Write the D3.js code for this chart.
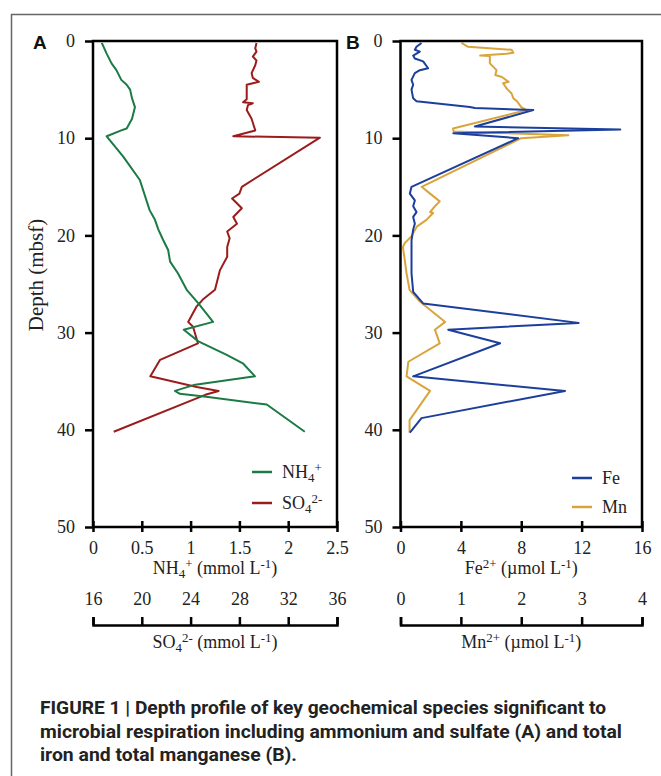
<!DOCTYPE html>
<html><head><meta charset="utf-8">
<script src="https://cdn.jsdelivr.net/npm/d3@7"></script>
<style>body{margin:0;background:#fff}</style>
</head><body>
<script>
// ---- data ----
const nh4Depth = [0.2,1.3,2.3,3.0,4.0,4.5,5.0,5.9,6.8,8.0,9.0,9.2,9.8,11.9,14.3,17.4,18.4,19.4,20.5,21.5,22.7,23.9,25.6,27.0,28.9,29.7,30.9,32.3,33.2,34.5,35.4,36.0,36.3,36.6,37.4,40.2];
const nh4 = [0.09,0.14,0.19,0.24,0.29,0.345,0.38,0.40,0.43,0.40,0.345,0.29,0.14,0.31,0.48,0.58,0.635,0.67,0.72,0.77,0.79,0.87,0.96,1.08,1.23,0.93,1.08,1.37,1.54,1.66,1.03,0.84,0.89,1.16,1.78,2.17];
const so4Depth = [0.2,0.75,1.1,1.6,2.0,2.5,3.3,3.8,4.2,4.35,4.5,6.0,6.3,6.4,6.6,7.1,8.0,9.2,9.8,9.95,15.0,15.7,16.2,17.2,18.1,18.8,19.6,20.3,21.2,22.2,23.6,25.6,26.6,27.3,28.9,29.4,31.1,32.8,34.5,35.6,36.0,36.4,40.2];
const so4 = [29.4,29.3,29.4,29.1,29.4,29.3,29.0,29.1,29.6,29.1,28.6,28.6,28.3,29.1,28.7,28.6,29.0,29.3,27.5,34.6,28.2,28.0,27.4,28.2,27.5,27.8,27.0,27.2,27.0,27.0,26.4,26.0,25.0,24.5,23.8,24.2,24.6,21.5,20.7,24.5,26.3,25.2,17.7];
const feDepth = [0.2,0.6,0.9,1.1,1.5,1.8,2.1,2.8,3.0,3.3,4.0,4.5,5.0,5.9,6.2,6.8,6.9,7.1,8.8,9.1,9.5,10.0,15.0,15.7,16.4,17.0,17.6,18.1,18.8,19.4,20.5,23.9,25.8,27.0,29.0,29.7,31.1,34.5,36.0,38.8,40.3];
const fe = [1.39,1.06,0.95,1.28,0.84,0.95,1.5,1.83,1.28,0.95,0.73,0.84,0.73,0.84,1.06,4.6,4.93,8.8,4.93,14.56,3.5,7.8,0.73,0.62,0.95,0.84,1.06,0.84,0.95,0.84,0.73,0.73,0.84,1.5,11.8,3.16,6.6,0.84,10.9,1.39,0.62];
const mnDepth = [0.2,0.6,0.9,1.2,1.3,1.5,1.55,2.3,3.0,3.5,3.7,4.2,4.35,4.9,5.4,5.9,6.2,6.8,7.1,9.0,9.3,9.7,10.0,15.0,15.7,16.5,17.0,17.6,17.7,18.4,19.1,20.1,20.8,21.2,22.5,23.9,25.6,26.8,28.9,29.7,31.1,33.0,34.5,36.0,39.0,40.3];
const mn = [1.01,1.12,1.84,1.87,1.76,1.32,1.48,1.48,1.59,1.57,1.68,1.79,1.70,1.76,1.84,1.87,1.93,2.0,2.09,0.87,0.88,2.78,2.0,0.35,0.49,0.65,0.57,0.49,0.54,0.43,0.27,0.18,0.07,0.04,0.07,0.10,0.15,0.32,0.74,0.57,0.65,0.13,0.10,0.49,0.15,0.15];
const depthTicks = [0,10,20,30,40,50];
const nh4Ticks = [0,0.5,1,1.5,2,2.5];
const so4Ticks = [16,20,24,28,32,36];
const feTicks = [0,4,8,12,16];
const mnTicks = [0,1,2,3,4];
const captionLines = [
  "FIGURE 1 | Depth profile of key geochemical species significant to",
  "microbial respiration including ammonium and sulfate (A) and total",
  "iron and total manganese (B)."
];

// ---- drawing ----
const W = 661, H = 776;
const svg = d3.select("body").append("svg").attr("width", W).attr("height", H)
  .style("font-family", "'Liberation Serif','Times New Roman',serif");
svg.append("rect").attr("width", W).attr("height", H).attr("fill", "#fff");

// outer frame
svg.append("path").attr("d", "M11.5,776V14.5H661").attr("fill", "none").attr("stroke", "#666").attr("stroke-width", 1.5);

const plotTop = 41, plotBottom = 527;
const y = d3.scaleLinear().domain([0, 50]).range([plotTop, plotBottom]);

function rich(textSel, parts) {
  let cur = 0;
  parts.forEach(p => {
    const t = p.s === "sub" ? 4 : p.s === "sup" ? -6 : 0;
    const ts = textSel.append("tspan").text(p.t).attr("dy", t - cur);
    if (p.s) ts.attr("font-size", "72%");
    cur = t;
  });
}

const fontSize = 18;

function panel(opt) {
  const x1 = d3.scaleLinear().domain(opt.d1).range([opt.left, opt.right]);
  const x2 = d3.scaleLinear().domain(opt.d2).range([opt.left, opt.right]);
  const g = svg.append("g");
  const line = (xs, dep, vals) => d3.line().x((d, i) => xs(vals[i])).y(d => y(d))(dep);
  opt.series.forEach(s => {
    g.append("path").attr("d", line(s.scale === 1 ? x1 : x2, s.depth, s.vals))
      .attr("fill", "none").attr("stroke", s.color).attr("stroke-width", 2).attr("stroke-linejoin", "round");
  });
  g.append("rect").attr("x", opt.left).attr("y", plotTop).attr("width", opt.right - opt.left).attr("height", plotBottom - plotTop)
    .attr("fill", "none").attr("stroke", "#000").attr("stroke-width", 2.5);
  const ya = g.append("g").attr("transform", `translate(${opt.left},0)`)
    .call(d3.axisLeft(y).tickValues(depthTicks).tickSize(8).tickPadding(10));
  ya.select(".domain").remove();
  ya.selectAll(".tick line").attr("stroke", "#000").attr("stroke-width", 2.5);
  ya.selectAll("text").attr("font-size", fontSize).attr("font-family", "'Liberation Serif',serif").attr("fill", "#222");
  const xa = g.append("g").attr("transform", `translate(0,${plotBottom})`)
    .call(d3.axisBottom(x1).tickValues(opt.t1).tickFormat(d => d).tickSize(6).tickPadding(8));
  xa.select(".domain").remove();
  xa.selectAll(".tick line").attr("y1", -6).attr("y2", 5).attr("stroke", "#000").attr("stroke-width", 2.5);
  xa.selectAll("text").attr("font-size", fontSize).attr("font-family", "'Liberation Serif',serif").attr("fill", "#222");
  const yb = 625;
  const xb = g.append("g").attr("transform", `translate(0,${yb})`)
    .call(d3.axisTop(x2).tickValues(opt.t2).tickFormat(d => d).tickSize(8).tickSizeOuter(8).tickPadding(12));
  xb.select(".domain").attr("stroke", "#000").attr("stroke-width", 2.5);
  xb.selectAll(".tick line").attr("stroke", "#000").attr("stroke-width", 2.5);
  xb.selectAll("text").attr("font-size", fontSize).attr("font-family", "'Liberation Serif',serif").attr("fill", "#222");
  const cx = (opt.left + opt.right) / 2;
  rich(g.append("text").attr("x", cx).attr("y", 574).attr("text-anchor", "middle").attr("font-size", fontSize).attr("fill", "#222"), opt.title1);
  rich(g.append("text").attr("x", cx).attr("y", 648).attr("text-anchor", "middle").attr("font-size", fontSize).attr("fill", "#222"), opt.title2);
  g.append("text").attr("x", opt.letterX).attr("y", 49).text(opt.letter)
    .attr("font-family", "'Liberation Sans',Arial,sans-serif").attr("font-weight", "bold").attr("font-size", 19).attr("fill", "#111");
  opt.series.forEach((s, i) => {
    const ly = opt.legY[i];
    g.append("line").attr("x1", opt.legX).attr("x2", opt.legX + 20).attr("y1", ly).attr("y2", ly)
      .attr("stroke", s.color).attr("stroke-width", 2.5);
    rich(g.append("text").attr("x", opt.legX + 30).attr("y", ly + 6).attr("font-size", fontSize).attr("fill", "#222"), s.label);
  });
}

panel({
  left: 93, right: 337, d1: [0, 2.5], d2: [16, 36], t1: nh4Ticks, t2: so4Ticks,
  letter: "A", letterX: 33,
  series: [
    {depth: so4Depth, vals: so4, scale: 2, color: "#9a1c1c", label: [{t: "SO"}, {t: "4", s: "sub"}, {t: "2-", s: "sup"}]},
    {depth: nh4Depth, vals: nh4, scale: 1, color: "#1b7a45", label: [{t: "NH"}, {t: "4", s: "sub"}, {t: "+", s: "sup"}]}
  ],
  legX: 252, legY: [503, 472],
  title1: [{t: "NH"}, {t: "4", s: "sub"}, {t: "+", s: "sup"}, {t: " (mmol L"}, {t: "-1", s: "sup"}, {t: ")"}],
  title2: [{t: "SO"}, {t: "4", s: "sub"}, {t: "2-", s: "sup"}, {t: " (mmol L"}, {t: "-1", s: "sup"}, {t: ")"}]
});
panel({
  left: 400.5, right: 642, d1: [0, 16], d2: [0, 4], t1: feTicks, t2: mnTicks,
  letter: "B", letterX: 346,
  series: [
    {depth: mnDepth, vals: mn, scale: 2, color: "#d9a43c", label: [{t: "Mn"}]},
    {depth: feDepth, vals: fe, scale: 1, color: "#1c3f9c", label: [{t: "Fe"}]}
  ],
  legX: 572, legY: [507, 478],
  title1: [{t: "Fe"}, {t: "2+", s: "sup"}, {t: " (µmol L"}, {t: "-1", s: "sup"}, {t: ")"}],
  title2: [{t: "Mn"}, {t: "2+", s: "sup"}, {t: " (µmol L"}, {t: "-1", s: "sup"}, {t: ")"}]
});

svg.append("text").attr("transform", "translate(43,275) rotate(-90)").attr("text-anchor", "middle")
  .attr("font-size", 21).attr("fill", "#222").text("Depth (mbsf)");

const capEnds = [606, 622, 297];
captionLines.forEach((l, i) => {
  svg.append("text").attr("x", 40).attr("y", 714 + i * 23.5).text(l)
    .attr("font-family", "'Liberation Sans Narrow','Roboto',Arial,sans-serif").attr("font-weight", "bold")
    .attr("font-size", 19).attr("fill", "#222")
    .attr("textLength", capEnds[i] - 40).attr("lengthAdjust", "spacingAndGlyphs");
});
</script>
</body></html>
